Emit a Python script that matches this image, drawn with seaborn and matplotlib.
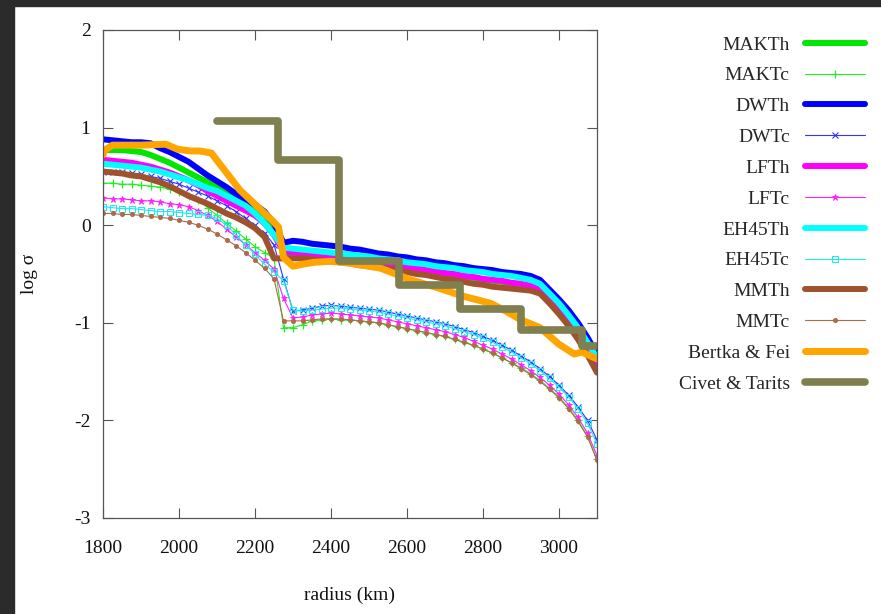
import numpy as np
import matplotlib
matplotlib.use("Agg")
import matplotlib.pyplot as plt
import seaborn as sns
from matplotlib.patches import Rectangle

# ---------------- data ----------------
radius = np.arange(1800, 3101, 25)  # km, 53 points

MAKTh = [0.77, 0.77, 0.77, 0.76, 0.75, 0.72, 0.68, 0.64, 0.59, 0.54, 0.49, 0.44, 0.38, 0.33, 0.27, 0.22,
         0.17, 0.11, 0.00, -0.29, -0.29, -0.30, -0.31, -0.32, -0.33, -0.34, -0.35, -0.36, -0.38, -0.39,
         -0.41, -0.42, -0.44, -0.45, -0.47, -0.48, -0.50, -0.51, -0.53, -0.54, -0.56, -0.57, -0.58, -0.60,
         -0.61, -0.63, -0.67, -0.76, -0.87, -0.99, -1.12, -1.27, -1.43]
MAKTc = [0.43, 0.43, 0.42, 0.42, 0.41, 0.40, 0.39, 0.37, 0.34, 0.30, 0.26, 0.18, 0.10, 0.02, -0.06, -0.14,
         -0.22, -0.28, -0.34, -1.05, -1.05, -1.02, -0.98, -0.97, -0.96, -0.97, -0.97, -0.98, -0.99, -1.00,
         -1.02, -1.04, -1.06, -1.08, -1.10, -1.12, -1.14, -1.17, -1.20, -1.23, -1.27, -1.31, -1.36, -1.41,
         -1.46, -1.52, -1.59, -1.67, -1.76, -1.87, -2.00, -2.16, -2.40]
DWTh = [0.88, 0.87, 0.86, 0.85, 0.85, 0.84, 0.79, 0.75, 0.70, 0.65, 0.58, 0.51, 0.45, 0.39, 0.32, 0.26,
        0.21, 0.14, 0.02, -0.18, -0.16, -0.17, -0.19, -0.20, -0.21, -0.22, -0.24, -0.25, -0.27, -0.29,
        -0.30, -0.32, -0.33, -0.35, -0.36, -0.38, -0.39, -0.41, -0.42, -0.44, -0.45, -0.46, -0.48, -0.49,
        -0.50, -0.52, -0.56, -0.66, -0.76, -0.87, -1.00, -1.15, -1.32]
DWTc = [0.55, 0.55, 0.54, 0.53, 0.52, 0.50, 0.48, 0.45, 0.42, 0.38, 0.34, 0.30, 0.25, 0.20, 0.14, 0.07,
        0.00, -0.08, -0.20, -0.55, -0.88, -0.87, -0.85, -0.83, -0.82, -0.83, -0.84, -0.85, -0.86, -0.87,
        -0.89, -0.91, -0.93, -0.95, -0.97, -0.99, -1.01, -1.04, -1.07, -1.10, -1.14, -1.18, -1.23, -1.28,
        -1.34, -1.40, -1.47, -1.55, -1.64, -1.74, -1.86, -2.00, -2.20]
LFTh = [0.67, 0.66, 0.65, 0.64, 0.62, 0.60, 0.57, 0.54, 0.50, 0.46, 0.41, 0.35, 0.30, 0.25, 0.20, 0.15,
        0.10, 0.02, -0.10, -0.27, -0.28, -0.29, -0.30, -0.31, -0.32, -0.33, -0.34, -0.35, -0.37, -0.38,
        -0.40, -0.41, -0.43, -0.44, -0.46, -0.47, -0.49, -0.50, -0.52, -0.53, -0.55, -0.56, -0.57, -0.59,
        -0.60, -0.62, -0.66, -0.75, -0.86, -0.98, -1.10, -1.25, -1.41]
LFTc = [0.28, 0.27, 0.27, 0.26, 0.25, 0.25, 0.24, 0.22, 0.21, 0.19, 0.15, 0.10, 0.04, -0.04, -0.12, -0.20,
        -0.28, -0.36, -0.45, -0.75, -0.95, -0.94, -0.92, -0.91, -0.90, -0.91, -0.92, -0.93, -0.94, -0.95,
        -0.97, -0.99, -1.01, -1.03, -1.05, -1.07, -1.09, -1.12, -1.15, -1.19, -1.23, -1.27, -1.32, -1.37,
        -1.43, -1.49, -1.56, -1.64, -1.73, -1.84, -1.97, -2.13, -2.36]
EH45Th = [0.63, 0.62, 0.61, 0.60, 0.59, 0.57, 0.55, 0.52, 0.49, 0.46, 0.42, 0.38, 0.35, 0.30, 0.25, 0.20,
          0.12, 0.02, -0.10, -0.23, -0.24, -0.25, -0.26, -0.27, -0.28, -0.29, -0.30, -0.31, -0.32, -0.34,
          -0.35, -0.36, -0.38, -0.39, -0.40, -0.42, -0.43, -0.44, -0.46, -0.47, -0.48, -0.50, -0.51, -0.52,
          -0.54, -0.56, -0.60, -0.70, -0.80, -0.92, -1.05, -1.20, -1.36]
EH45Tc = [0.19, 0.18, 0.17, 0.17, 0.16, 0.15, 0.14, 0.14, 0.13, 0.12, 0.11, 0.10, 0.07, 0.00, -0.10, -0.20,
          -0.30, -0.40, -0.48, -0.57, -0.87, -0.88, -0.87, -0.86, -0.85, -0.85, -0.86, -0.87, -0.88, -0.89,
          -0.91, -0.93, -0.95, -0.97, -0.99, -1.01, -1.03, -1.06, -1.09, -1.12, -1.16, -1.20, -1.25, -1.30,
          -1.36, -1.42, -1.49, -1.57, -1.66, -1.76, -1.88, -2.03, -2.24]
MMTh = [0.55, 0.54, 0.53, 0.51, 0.50, 0.47, 0.44, 0.40, 0.35, 0.30, 0.26, 0.22, 0.17, 0.12, 0.08, 0.03,
        -0.03, -0.12, -0.34, -0.34, -0.34, -0.34, -0.35, -0.36, -0.37, -0.38, -0.39, -0.41, -0.42, -0.43,
        -0.45, -0.46, -0.48, -0.50, -0.51, -0.53, -0.55, -0.56, -0.58, -0.60, -0.61, -0.63, -0.64, -0.65,
        -0.66, -0.67, -0.70, -0.80, -0.91, -1.03, -1.17, -1.33, -1.51]
MMTc = [0.12, 0.12, 0.11, 0.11, 0.10, 0.09, 0.08, 0.07, 0.05, 0.03, 0.00, -0.04, -0.09, -0.15, -0.21, -0.28,
        -0.36, -0.44, -0.55, -0.98, -0.98, -0.98, -0.97, -0.96, -0.96, -0.96, -0.97, -0.98, -0.99, -1.00,
        -1.02, -1.04, -1.06, -1.08, -1.10, -1.12, -1.14, -1.17, -1.20, -1.23, -1.27, -1.31, -1.36, -1.41,
        -1.47, -1.53, -1.60, -1.68, -1.77, -1.88, -2.01, -2.17, -2.41]

bertka_r = [1800, 1805, 1825, 1900, 1965, 1995, 2030, 2055, 2085, 2160, 2215, 2245, 2262, 2275, 2300, 2325,
            2355, 2400, 2450, 2530, 2610, 2680, 2750, 2820, 2860, 2900, 2950, 3000, 3040, 3060, 3100]
bertka_s = [0.72, 0.77, 0.82, 0.82, 0.83, 0.78, 0.76, 0.76, 0.74, 0.36, 0.16, 0.05, -0.02, -0.33, -0.42, -0.40,
            -0.38, -0.37, -0.39, -0.44, -0.56, -0.64, -0.73, -0.80, -0.88, -0.97, -1.05, -1.22, -1.32, -1.30, -1.37]

civet_r = [2100, 2260, 2420, 2580, 2740, 2900, 3060, 3100]
civet_s = [1.07, 0.67, -0.37, -0.61, -0.86, -1.07, -1.24, -1.24]

x_ticks = [1800, 2000, 2200, 2400, 2600, 2800, 3000]
y_ticks = [-3, -2, -1, 0, 1, 2]

# ---------------- style ----------------
sns.set_theme(style="ticks")
plt.rcParams['font.family'] = ['Liberation Serif', 'DejaVu Serif']

fig = plt.figure(figsize=(8.81, 6.14), dpi=100)
fig.patch.set_facecolor("white")
ax = fig.add_axes([103 / 881, 1 - 518 / 614, (597 - 103) / 881, (518 - 30) / 614])

GREEN, BLUE, MAG, CYAN, BROWN = "#00e600", "#0000ff", "#ff00ff", "#00ffff", "#a0522d"
ORANGE, OLIVE = "#ffa500", "#7f7f4f"
thick = 4.3
thin = 0.8
ms = 5


def thin_kw(color, marker, size, mew, filled=True):
    return dict(color=color, linewidth=thin, marker=marker, markersize=size, markeredgewidth=mew,
                markeredgecolor=color, markerfacecolor=color if filled else "none")


series = [
    ("MAKTh", MAKTh, dict(color=GREEN, linewidth=thick)),
    ("MAKTc", MAKTc, thin_kw("#22ee22", "+", ms + 1, 0.9)),
    ("DWTh", DWTh, dict(color=BLUE, linewidth=thick)),
    ("DWTc", DWTc, thin_kw("#3333ff", "x", ms - 1, 0.8)),
    ("LFTh", LFTh, dict(color=MAG, linewidth=thick)),
    ("LFTc", LFTc, thin_kw("#ff22ff", "*", ms, 0.6)),
    ("EH45Th", EH45Th, dict(color=CYAN, linewidth=thick)),
    ("EH45Tc", EH45Tc, thin_kw("#22e8f0", "s", ms - 0.5, 0.8, filled=False)),
    ("MMTh", MMTh, dict(color=BROWN, linewidth=thick)),
    ("MMTc", MMTc, thin_kw("#b06a48", "o", ms - 2, 0.6)),
]

for name, vals, kw in series:
    sns.lineplot(x=radius, y=vals, ax=ax, label=name, **kw)

sns.lineplot(x=bertka_r, y=bertka_s, ax=ax, label="Bertka & Fei", color=ORANGE, linewidth=5.0)
sns.lineplot(x=civet_r, y=civet_s, ax=ax, label="Civet & Tarits", color=OLIVE, linewidth=5.5,
             drawstyle="steps-post")

ax.set_xlim(1800, 3100)
ax.set_ylim(-3, 2)
ax.set_xticks(x_ticks)
ax.set_yticks(y_ticks)
ax.set_xticklabels([str(t) for t in x_ticks])
ax.set_yticklabels([str(t) for t in y_ticks])
ax.tick_params(direction="in", length=7, width=0.8, top=True, right=True, labelsize=14,
               colors="#555555", labelcolor="#111111")
ax.tick_params(axis="x", pad=16)
ax.tick_params(axis="y", pad=9)
for sp in ax.spines.values():
    sp.set_visible(True)
    sp.set_color("#555555")
    sp.set_linewidth(0.9)

ax.set_xlabel("radius (km)", fontsize=14, labelpad=21, color="#111111")
ax.set_ylabel("log σ", fontsize=14, labelpad=26, color="#111111")

handles, labels = ax.get_legend_handles_labels()
ax.get_legend().remove()
fig.legend(handles, labels, loc="upper right", bbox_to_anchor=(865 / 881, 1 - 36 / 614),
           frameon=False, markerfirst=False, fontsize=14, labelspacing=0.68, handlelength=3.1,
           handletextpad=0.77, borderpad=0, borderaxespad=0, numpoints=1)

# dark window frame on left and top
fig.patches.append(Rectangle((0, 0), 14 / 881, 1, transform=fig.transFigure, color="#2b2b2b", zorder=10))
fig.patches.append(Rectangle((0, 1 - 6 / 614), 1, 6 / 614, transform=fig.transFigure, color="#2b2b2b", zorder=10))

fig.savefig("out.png", dpi=100)
